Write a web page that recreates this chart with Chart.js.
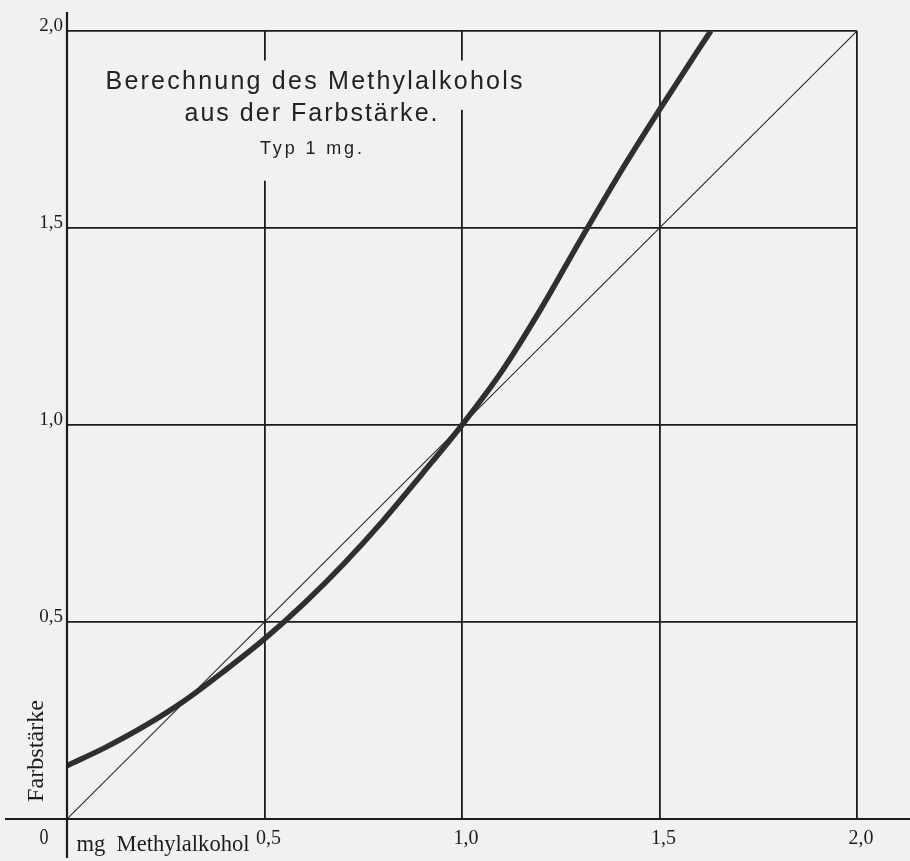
<!DOCTYPE html>
<html>
<head>
<meta charset="utf-8">
<script src="https://cdn.jsdelivr.net/npm/chart.js@4"></script>
<style>
  html, body { margin: 0; padding: 0; background: #f1f1ef; }
  #wrap { width: 910px; height: 861px; }
</style>
</head>
<body>
<div id="wrap"><canvas id="c" width="910" height="861"></canvas></div>
<script>
// ---- data ----
const massMg      = [0, 0.1, 0.2, 0.3, 0.4, 0.5, 0.6, 0.7, 0.8, 0.9, 1.0, 1.1, 1.2, 1.3, 1.4, 1.5, 1.6, 1.63];
const colourValue = [0.135, 0.183, 0.238, 0.302, 0.377, 0.457, 0.547, 0.647, 0.757, 0.877, 1.0, 1.135, 1.295, 1.47, 1.64, 1.80, 1.955, 2.0];
const diagonalX   = [0, 2];
const diagonalY   = [0, 2];
const tickValues  = [0, 0.5, 1.0, 1.5, 2.0];
const titleLines  = ['Berechnung des Methylalkohols', 'aus der Farbstärke.', 'Typ 1 mg.'];
const xAxisTitle  = 'mg  Methylalkohol';
const yAxisTitle  = 'Farbstärke';
const originLabel = '0';

const fmt = v => v.toFixed(1).replace('.', ',');
const toPoints = (xs, ys) => xs.map((x, i) => ({ x, y: ys[i] }));

const INK = '#1c1c1c';
const PAPER = '#f1f1ef';
const SERIF = '"Liberation Serif", "DejaVu Serif", serif';
const SANS = '"Liberation Sans", Arial, sans-serif';

const paperPlugin = {
  id: 'paper',
  beforeDraw(chart) {
    const ctx = chart.ctx;
    ctx.save();
    ctx.fillStyle = PAPER;
    ctx.fillRect(0, 0, chart.width, chart.height);
    ctx.restore();
  },
  beforeDatasetsDraw(chart) {
    // paper-coloured panel behind the title block (it interrupts the grid)
    const { ctx, scales: { x, y } } = chart;
    ctx.save();
    ctx.fillStyle = PAPER;
    const x0 = x.getPixelForValue(0.085), x1 = x.getPixelForValue(1.18), x2 = x.getPixelForValue(0.99);
    const y0 = y.getPixelForValue(1.925), y1 = y.getPixelForValue(1.80), y2 = y.getPixelForValue(1.62);
    ctx.fillRect(x0, y0, x1 - x0, y1 - y0);
    ctx.fillRect(x0, y1, x2 - x0, y2 - y1);
    ctx.restore();
  },
  afterDraw(chart) {
    const { ctx, scales: { x, y } } = chart;
    ctx.save();
    // extended axis lines
    ctx.strokeStyle = INK;
    ctx.lineWidth = 2.2;
    const ax = x.getPixelForValue(0), ay = y.getPixelForValue(0);
    ctx.beginPath();
    ctx.moveTo(5, ay); ctx.lineTo(chart.width, ay);
    ctx.moveTo(ax, 12); ctx.lineTo(ax, 858);
    ctx.stroke();

    // letter-spaced text fitted to a width
    const spaced = (text, font, targetW, cxp, cy) => {
      ctx.font = font;
      ctx.letterSpacing = '0px';
      const w = ctx.measureText(text).width;
      const sp = Math.max(0, (targetW - w) / (text.length - 1));
      ctx.letterSpacing = sp + 'px';
      ctx.textAlign = 'left';
      ctx.textBaseline = 'middle';
      ctx.fillText(text, cxp - targetW / 2, cy);
      ctx.letterSpacing = '0px';
    };
    // condensed text fitted to a width
    const condensed = (text, font, targetW, cxp, cy, rot) => {
      ctx.save();
      ctx.font = font;
      ctx.letterSpacing = '0px';
      const w = ctx.measureText(text).width;
      ctx.translate(cxp, cy);
      if (rot) ctx.rotate(rot);
      ctx.scale(targetW / w, 1);
      ctx.textAlign = 'center';
      ctx.textBaseline = 'middle';
      ctx.fillText(text, 0, 0);
      ctx.restore();
    };

    ctx.fillStyle = '#222';
    spaced(titleLines[0], '25px ' + SANS, 417, 314, 82);
    spaced(titleLines[1], '25px ' + SANS, 253, 311, 114);
    spaced(titleLines[2], '18px ' + SANS, 102, 311, 149);

    // axis titles
    ctx.fillStyle = INK;
    condensed(xAxisTitle, '24px ' + SERIF, 173, 163, 845, 0);
    condensed(originLabel, '24px ' + SERIF, 9, 44, 838, 0);
    condensed(yAxisTitle, '24px ' + SERIF, 102, 37, 751, -Math.PI / 2);
    ctx.restore();
  }
};

new Chart(document.getElementById('c'), {
  type: 'scatter',
  data: {
    datasets: [
      {
        label: 'Gerade',
        data: toPoints(diagonalX, diagonalY),
        showLine: true,
        borderColor: '#2a2a2a',
        borderWidth: 1.1,
        pointRadius: 0,
        fill: false
      },
      {
        label: 'Farbstärke',
        data: toPoints(massMg, colourValue),
        showLine: true,
        borderColor: '#2f2f2f',
        borderWidth: 5.5,
        pointRadius: 0,
        cubicInterpolationMode: 'monotone',
        fill: false
      }
    ]
  },
  options: {
    responsive: false,
    animation: false,
    devicePixelRatio: 1,
    layout: { padding: { left: 0, right: 53, top: 31, bottom: 0 } },
    plugins: { legend: { display: false }, tooltip: { enabled: false }, title: { display: false } },
    scales: {
      x: {
        type: 'linear',
        min: 0, max: 2,
        afterBuildTicks(scale) { scale.ticks = tickValues.map(v => ({ value: v })); },
        afterFit(scale) { scale.height = 42; },
        grid: { color: INK, lineWidth: 1.8, drawTicks: false },
        border: { display: true, color: INK, width: 2 },
        ticks: {
          callback: v => (v === 0 ? '' : fmt(v)),
          color: INK,
          padding: 8,
          labelOffset: 4,
          maxRotation: 0,
          font: { family: SERIF, size: 20 }
        }
      },
      y: {
        type: 'linear',
        min: 0, max: 2,
        afterBuildTicks(scale) { scale.ticks = tickValues.map(v => ({ value: v })); },
        afterFit(scale) { scale.width = 67; },
        grid: { color: INK, lineWidth: 1.8, drawTicks: false },
        border: { display: true, color: INK, width: 2 },
        ticks: {
          callback: v => (v === 0 ? '' : fmt(v)),
          color: INK,
          padding: 4,
          labelOffset: -5,
          font: { family: SERIF, size: 19 }
        }
      }
    }
  },
  plugins: [paperPlugin]
});
</script>
</body>
</html>
